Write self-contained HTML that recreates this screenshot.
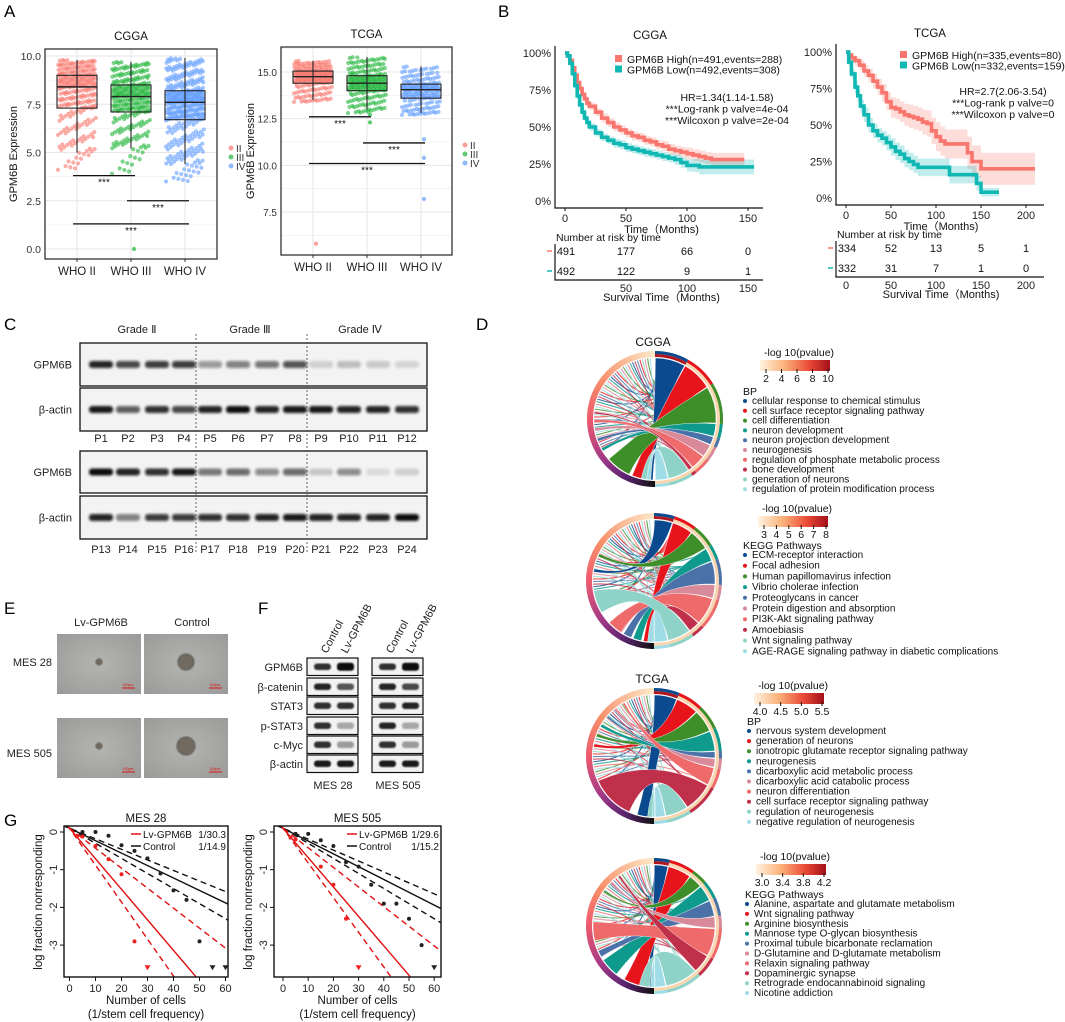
<!DOCTYPE html>
<html><head><meta charset="utf-8">
<style>
body{margin:0;background:#fff}
svg{display:block;font-family:"Liberation Sans",Arial,sans-serif}
</style></head>
<body>
<svg id="fig" width="1065" height="1022" viewBox="0 0 1065 1022">
<defs>
<filter id="blur" x="-50%" y="-100%" width="200%" height="300%"><feGaussianBlur stdDeviation="1.4"/></filter>
<filter id="blur2" x="-50%" y="-50%" width="200%" height="200%"><feGaussianBlur stdDeviation="0.9"/></filter>
<linearGradient id="cbar" x1="0" x2="1" y1="0" y2="0">
<stop offset="0" stop-color="#fff3e0"/><stop offset="0.35" stop-color="#fbb27a"/><stop offset="0.7" stop-color="#ea4a36"/><stop offset="1" stop-color="#a3101a"/>
</linearGradient>
<radialGradient id="photo" cx="0.5" cy="0.5" r="0.7"><stop offset="0" stop-color="#b4b4b2"/><stop offset="1" stop-color="#9a9a98"/></radialGradient>
<clipPath id="clipG1"><rect x="64" y="826" width="164" height="151"/></clipPath>
<clipPath id="clipG2"><rect x="274" y="826" width="167" height="151"/></clipPath>
</defs>

<text x="4" y="17" font-size="17">A</text>
<text x="498" y="17" font-size="17">B</text>
<text x="4" y="330" font-size="17">C</text>
<text x="476" y="330" font-size="17">D</text>
<text x="4" y="614" font-size="17">E</text>
<text x="258" y="614" font-size="17">F</text>
<text x="4" y="826" font-size="17">G</text>

<g id="pA"></g>
<g id="pB"></g>
<g id="pC"></g>
<g id="pD"></g>
<g id="pE"></g>
<g id="pF"></g>
<g id="pG"></g>
</svg>

<script>
const NS='http://www.w3.org/2000/svg';
const svg=document.getElementById('fig');
function mk(tag,attrs,parent){const e=document.createElementNS(NS,tag);for(const k in attrs)e.setAttribute(k,attrs[k]);(parent||svg).appendChild(e);return e;}
function tx(x,y,s,size,anchor,parent,extra){const e=mk('text',Object.assign({x:x,y:y,'font-size':size,'text-anchor':anchor||'start',fill:'#111'},extra||{}),parent);e.textContent=s;return e;}

/* ================= PANEL A DATA ================= */
const cggaGroups=['WHO II','WHO III','WHO IV'];
const cggaLow=[4.1,3.9,3.5];
const cggaMin=[5.0,5.2,4.4];
const cggaQ1=[7.3,7.1,6.7];
const cggaMed=[8.4,7.9,7.6];
const cggaQ3=[9.0,8.5,8.2];
const cggaMax=[9.8,9.7,9.9];
const cggaN=[260,270,380];
const cggaTicks=[0,2.5,5,7.5,10];
const cggaOutY=[0.0]; const cggaOutG=[1];
const cggaSigY=[3.8,2.5,1.3]; const cggaSigA=[0,1,0]; const cggaSigB=[1,2,2];

const tcgaGroups=['WHO II','WHO III','WHO IV'];
const tcgaLow=[13.4,12.8,12.7];
const tcgaMin=[13.5,13.0,12.8];
const tcgaQ1=[14.4,14.0,13.6];
const tcgaMed=[14.75,14.4,14.05];
const tcgaQ3=[15.05,14.8,14.35];
const tcgaMax=[15.6,15.8,15.3];
const tcgaN=[200,210,180];
const tcgaTicks=[7.5,10,12.5,15];
const tcgaOutY=[5.8,12.3,12.7,11.4,10.4,8.2]; const tcgaOutG=[0,1,1,2,2,2];
const tcgaSigY=[12.6,11.2,10.1]; const tcgaSigA=[0,1,0]; const tcgaSigB=[1,2,2];
const grpColors=['#f8766d','#22b53a','#619cff'];

function quant(knots,probs,u){for(let j=1;j<probs.length;j++){if(u<=probs[j]){const t=(u-probs[j-1])/(probs[j]-probs[j-1]);return knots[j-1]+t*(knots[j]-knots[j-1]);}}return knots[knots.length-1];}

function boxPanel(o){
  const g=document.getElementById('pA');
  const sub=mk('g',{},g);
  
  
  for(let i=0;i<o.ticks.length;i++){
    const v=o.ticks[i];
    const gl=mk('line',{x1:o.L,x2:o.R,y1:o.y(v),y2:o.y(v),stroke:'#e6e6e6','stroke-width':1},sub);
    
    
    const mv=v+o.step/2;
    if(o.y(mv)>o.T){const ml=mk('line',{x1:o.L,x2:o.R,y1:o.y(mv),y2:o.y(mv),stroke:'#f1f1f1','stroke-width':0.8},sub);
      
      }
    const tl=tx(o.L-4,o.y(v)+4,v.toFixed(1),o.tickFont,'end',sub,{fill:'#333'});
    
    
  }
  if(o.extraMinor){const mv=o.ticks[0]-o.step/2;const ml=mk('line',{x1:o.L,x2:o.R,y1:o.y(mv),y2:o.y(mv),stroke:'#f1f1f1','stroke-width':0.8},sub);
    
    }
  for(let i=0;i<3;i++){
    const vl=mk('line',{x1:o.x(i),x2:o.x(i),y1:o.T,y2:o.B,stroke:'#e6e6e6','stroke-width':1},sub);
    
    
  }
  const probs=[0,0.04,0.25,0.5,0.75,1];
  for(let i=0;i<3;i++){
    const knots=[o.low[i],o.min[i],o.q1[i],o.med[i],o.q3[i],o.max[i]];
    for(let k=0;k<o.n[i];k++){
      const u=((k*0.7548776662)%1);
      const v=quant(knots,probs,u);
      const jx=(((k*0.5698402910)%1)-0.5)*38;
      const c=mk('circle',{cx:o.x(i)+jx,cy:o.y(v),r:2.1,fill:grpColors[i],'fill-opacity':0.6},sub);
      
      
    }
  }
  for(let j=0;j<o.outY.length;j++){
    const c=mk('circle',{cx:o.x(o.outG[j])+3,cy:o.y(o.outY[j]),r:2.1,fill:grpColors[o.outG[j]],'fill-opacity':0.7},sub);
    
    
  }
  for(let i=0;i<3;i++){
    const x=o.x(i),w=40;
    const wl=mk('line',{x1:x,x2:x,y1:o.y(o.min[i]),y2:o.y(o.max[i]),stroke:'#222','stroke-width':1.1},sub);
    
    
    const r=mk('rect',{x:x-w/2,y:o.y(o.q3[i]),width:w,height:o.y(o.q1[i])-o.y(o.q3[i]),fill:'none',stroke:'#222','stroke-width':1.1},sub);
    
    
    const m=mk('line',{x1:x-w/2,x2:x+w/2,y1:o.y(o.med[i]),y2:o.y(o.med[i]),stroke:'#222','stroke-width':1.4},sub);
    
    
    const xl=tx(x,o.B+16,o.groups[i],11.5,'middle',sub,{fill:'#222'});
    
    
    const tk=mk('line',{x1:x,x2:x,y1:o.B,y2:o.B+3,stroke:'#333'},sub);
    
    
  }
  for(let j=0;j<o.sigY.length;j++){
    const xa=o.x(o.sigA[j])-4,xb=o.x(o.sigB[j])+4,yy=o.y(o.sigY[j]);
    const l=mk('line',{x1:xa,x2:xb,y1:yy,y2:yy,stroke:'#111','stroke-width':1.3},sub);
    
    
    const s=tx((xa+xb)/2,yy+10,'***',10,'middle',sub);
    
    
  }
  const fr=mk('rect',{x:o.L,y:o.T,width:o.R-o.L,height:o.B-o.T,fill:'none',stroke:'#333','stroke-width':1.3},sub);
  
  
  const tt=tx((o.L+o.R)/2,o.T-9,o.title,11.5,'middle',sub);
  
  
  const yt=tx(0,0,'GPM6B Expression',11,'middle',sub,{transform:`translate(${o.ytX},${(o.T+o.B)/2}) rotate(-90)`});
  
  
  const labs=['II','III','IV'];
  for(let i=0;i<3;i++){
    const c=mk('circle',{cx:o.legX,cy:o.legY+i*9,r:2.5,fill:grpColors[i],'fill-opacity':0.7},sub);
    
    
    const t=tx(o.legX+5,o.legY+i*9+4,labs[i],10,'start',sub,{fill:'#333'});
    
    
  }
}
boxPanel({name:'cgga-boxplot',title:'CGGA',L:45,R:217,T:49,B:259,x:i=>77+54*i,y:v=>249-v*19.3,step:2.5,tickFont:10.5,
  ticks:cggaTicks,groups:cggaGroups,low:cggaLow,min:cggaMin,q1:cggaQ1,med:cggaMed,q3:cggaQ3,max:cggaMax,n:cggaN,
  outY:cggaOutY,outG:cggaOutG,sigY:cggaSigY,sigA:cggaSigA,sigB:cggaSigB,ytX:17,legX:231,legY:148});
boxPanel({name:'tcga-boxplot',title:'TCGA',L:281,R:452,T:47,B:255,x:i=>313+54*i,y:v=>72+(15-v)*18.67,step:2.5,extraMinor:true,tickFont:10,
  ticks:tcgaTicks,groups:tcgaGroups,low:tcgaLow,min:tcgaMin,q1:tcgaQ1,med:tcgaMed,q3:tcgaQ3,max:tcgaMax,n:tcgaN,
  outY:tcgaOutY,outG:tcgaOutG,sigY:tcgaSigY,sigA:tcgaSigA,sigB:tcgaSigB,ytX:254,legX:465,legY:145});

/* ================= PANEL B DATA ================= */
const cggaHighT=[0,2,4,6,8,10,12,14,16,18,20,25,30,35,40,45,50,55,60,65,70,75,80,85,90,95,100,105,110,115,120,147];
const cggaHighS=[1,0.98,0.95,0.90,0.85,0.80,0.76,0.72,0.69,0.66,0.64,0.60,0.56,0.53,0.50,0.48,0.46,0.44,0.43,0.41,0.40,0.38,0.37,0.35,0.34,0.33,0.32,0.31,0.30,0.29,0.28,0.28];
const cggaHighCI=[0,0.01,0.015,0.02,0.02,0.02,0.02,0.025,0.025,0.025,0.025,0.025,0.03,0.03,0.03,0.03,0.03,0.03,0.03,0.03,0.03,0.03,0.035,0.035,0.035,0.035,0.04,0.04,0.04,0.04,0.045,0.045];
const cggaLowT=[0,2,4,6,8,10,12,14,16,18,20,25,30,35,40,45,50,55,60,65,70,75,80,85,90,95,100,105,110,115,120,155];
const cggaLowS=[1,0.98,0.93,0.86,0.78,0.71,0.65,0.60,0.56,0.53,0.50,0.46,0.43,0.41,0.39,0.38,0.36,0.35,0.34,0.33,0.32,0.31,0.30,0.29,0.28,0.26,0.24,0.24,0.23,0.23,0.23,0.23];
const cggaLowCI=[0,0.01,0.015,0.02,0.02,0.02,0.02,0.025,0.025,0.025,0.025,0.025,0.025,0.025,0.03,0.03,0.03,0.03,0.03,0.03,0.03,0.03,0.03,0.03,0.035,0.035,0.04,0.045,0.05,0.05,0.05,0.05];
const tcgaHighT=[0,3,6,10,15,20,25,30,35,40,45,50,55,60,65,70,75,80,85,90,95,100,105,110,130,135,140,150,210];
const tcgaHighS=[1,0.98,0.96,0.94,0.91,0.87,0.84,0.80,0.76,0.72,0.66,0.62,0.61,0.59,0.57,0.56,0.55,0.54,0.52,0.51,0.46,0.42,0.39,0.37,0.37,0.31,0.25,0.20,0.20];
const tcgaHighCI=[0,0.01,0.02,0.03,0.035,0.04,0.045,0.05,0.055,0.06,0.06,0.07,0.07,0.07,0.075,0.08,0.08,0.08,0.085,0.09,0.09,0.1,0.1,0.1,0.1,0.11,0.11,0.11,0.11];
const tcgaLowT=[0,3,6,10,13,16,20,25,30,35,40,45,50,55,60,65,70,75,80,110,115,140,145,150,170];
const tcgaLowS=[1,0.93,0.85,0.76,0.70,0.63,0.57,0.50,0.46,0.43,0.41,0.38,0.35,0.32,0.30,0.27,0.25,0.23,0.21,0.21,0.16,0.16,0.10,0.04,0.04];
const tcgaLowCI=[0,0.02,0.03,0.04,0.04,0.045,0.05,0.05,0.05,0.05,0.05,0.055,0.06,0.06,0.06,0.06,0.06,0.06,0.06,0.06,0.06,0.06,0.05,0.03,0.03];
const riskCggaHigh=['491','177','66','0'];
const riskCggaLow=['492','122','9','1'];
const riskTcgaHigh=['334','52','13','5','1'];
const riskTcgaLow=['332','31','7','1','0'];
const kmPctTicks=[0,0.25,0.5,0.75,1];
const cggaTimeTicks=[0,50,100,150];
const tcgaTimeTicks=[0,50,100,150,200];

function stepPts(t,s){const p=[[t[0],s[0]]];for(let i=1;i<t.length;i++){p.push([t[i],s[i-1]]);p.push([t[i],s[i]]);}return p;}
function kmPanel(o){
  const g=mk('g',{},document.getElementById('pB'));
  
  
  const curves=[[o.hT,o.hS,o.hCI,'#f8766d'],[o.lT,o.lS,o.lCI,'#10b8b4']];
  for(const c of curves){
    const up=c[1].map((v,i)=>Math.min(1,v+c[2][i])), lo=c[1].map((v,i)=>Math.max(0,v-c[2][i]));
    const pu=stepPts(c[0],up), pl=stepPts(c[0],lo).reverse();
    const d='M'+pu.concat(pl).map(p=>o.x(p[0])+','+o.y(p[1])).join('L')+'Z';
    const b=mk('path',{d:d,fill:c[3],'fill-opacity':0.25,stroke:'none'},g);
    
    
  }
  for(const c of curves){
    const pts=stepPts(c[0],c[1]);
    const d='M'+pts.map(p=>o.x(p[0])+','+o.y(p[1])).join('L');
    const l=mk('path',{d:d,fill:'none',stroke:c[3],'stroke-width':3.6},g);
    
    
  }
  const ax=mk('path',{d:`M${o.L},${o.T}V${o.B}H${o.R}`,fill:'none',stroke:'#111','stroke-width':1.2},g);
  
  
  for(const v of kmPctTicks){
    const t=tx(o.L-4,o.y(v)+4,(v*100)+'%',11,'end',g,{fill:'#222'});
    
    
  }
  for(const v of o.tticks){
    const tk=mk('line',{x1:o.x(v),x2:o.x(v),y1:o.B,y2:o.B+3,stroke:'#111'},g);
    
    
    const t=tx(o.x(v),o.B+14,String(v),11,'middle',g,{fill:'#222'});
    
    
  }
  const xt=tx(o.x(o.tticks[o.tticks.length-1]/2)+5,o.B+25,'Time（Months)',11,'middle',g);
  
  
  const tt=tx(o.titleX,o.titleY,o.title,11.5,'middle',g);
  
  
  const lc=['#f8766d','#10b8b4'];
  for(let i=0;i<2;i++){
    const r=mk('rect',{x:o.legX,y:o.legY+i*10.5-4,width:7,height:7,fill:lc[i]},g);
    
    
    const t=tx(o.legX+12,o.legY+i*10.5+4,o.leg[i],10.5,'start',g);
    
    
  }
  for(let i=0;i<3;i++){
    const t=tx(o.hrX,o.hrY+i*11.5,o.hr[i],10.5,'middle',g);
    
    
  }
  const rt=tx(o.L+1,o.B+33,'Number at risk by time',10.5,'start',g);
  
  
  const tb=o.B+72;
  const tax=mk('path',{d:`M${o.L},${o.B+36}V${tb}H${o.R}`,fill:'none',stroke:'#111','stroke-width':1.2},g);
  
  
  const rows=[o.rH,o.rL];
  for(let r=0;r<2;r++){
    const yy=o.B+47+r*20;
    const dsh=mk('line',{x1:o.L-8,x2:o.L-3,y1:yy-4,y2:yy-4,stroke:lc[r],'stroke-width':1.5},g);
    
    
    for(let k=0;k<rows[r].length;k++){
      const xx=k===0?o.L+11:o.x(o.tticks[k]);
      const t=tx(xx,yy,rows[r][k],11,'middle',g);
      
      
    }
  }
  for(const v of o.tticks){
    if(v===0&&!o.zeroRisk)continue;
    const t=tx(o.x(v),tb+12,String(v),11,'middle',g,{fill:'#222'});
    
    
  }
  const st=tx(o.x(o.tticks[o.tticks.length-1]/2)+5,tb+21,'Survival Time（Months)',11,'middle',g);
  
  
}
kmPanel({name:'cgga-km-plot',title:'CGGA',titleX:650,titleY:39,L:555,R:763,T:46,B:208,x:t=>565+t*1.22,y:s=>201-s*148,
  hT:cggaHighT,hS:cggaHighS,hCI:cggaHighCI,lT:cggaLowT,lS:cggaLowS,lCI:cggaLowCI,tticks:cggaTimeTicks,
  legX:615,legY:59,leg:['GPM6B High(n=491,events=288)','GPM6B Low(n=492,events=308)'],
  hrX:727,hrY:101,hr:['HR=1.34(1.14-1.58)','***Log-rank p valve=4e-04','***Wilcoxon p valve=2e-04'],rH:riskCggaHigh,rL:riskCggaLow});
kmPanel({name:'tcga-km-plot',title:'TCGA',titleX:930,titleY:37,L:836,R:1044,T:44,B:205,x:t=>846+t*0.9,y:s=>198-s*146,zeroRisk:true,
  hT:tcgaHighT,hS:tcgaHighS,hCI:tcgaHighCI,lT:tcgaLowT,lS:tcgaLowS,lCI:tcgaLowCI,tticks:tcgaTimeTicks,
  legX:900,legY:55,leg:['GPM6B High(n=335,events=80)','GPM6B Low(n=332,events=159)'],
  hrX:1003,hrY:95,hr:['HR=2.7(2.06-3.54)','***Log-rank p valve=0','***Wilcoxon p valve=0'],rH:riskTcgaHigh,rL:riskTcgaLow});

/* ================= PANEL C ================= */
const laneLabelsTop=['P1','P2','P3','P4','P5','P6','P7','P8','P9','P10','P11','P12'];
const laneLabelsBot=['P13','P14','P15','P16','P17','P18','P19','P20','P21','P22','P23','P24'];
const gpm6bTop=[0.9,0.75,0.8,0.8,0.4,0.5,0.55,0.7,0.15,0.22,0.17,0.12];
const actinTop=[0.95,0.65,0.85,0.75,0.9,1,0.9,0.95,0.95,0.9,0.9,0.85];
const gpm6bBot=[1,0.9,0.85,0.95,0.55,0.6,0.45,0.6,0.18,0.45,0.1,0.15];
const actinBot=[0.9,0.5,0.8,0.8,0.85,0.85,0.9,0.95,0.9,0.9,0.9,1];
const laneX=[101,128,157,184,210,238,267,295,321,349,378,407];
(function(){
  const g=document.getElementById('pC');
  const grades=[['Grade Ⅱ',137],['Grade Ⅲ',250],['Grade Ⅳ',360]];
  for(const gr of grades){const t=tx(gr[1],333,gr[0],11,'middle',g,{fill:'#222'});
    
    }
  const boxes=[[343,386,gpm6bTop,'GPM6B'],[388,431,actinTop,'β-actin'],[451,493,gpm6bBot,'GPM6B'],[496,539,actinBot,'β-actin']];
  for(const b of boxes){
    const r=mk('rect',{x:80,y:b[0],width:347,height:b[1]-b[0],fill:'#f3f3f3',stroke:'#111','stroke-width':1.3},g);
    
    
    const cy=(b[0]+b[1])/2;
    for(let i=0;i<12;i++){
      const band=mk('rect',{x:laneX[i]-12,y:cy-3.5,width:24,height:7,rx:3,fill:'#111','fill-opacity':b[2][i],filter:'url(#blur)'},g);
      
      
    }
    const l=tx(72,cy+4,b[3],11,'end',g,{fill:'#222'});
    
    
  }
  for(let i=0;i<12;i++){
    const a=tx(laneX[i],442,laneLabelsTop[i],11,'middle',g,{fill:'#222'});
    
    
    const b=tx(laneX[i],553,laneLabelsBot[i],11,'middle',g,{fill:'#222'});
    
    
  }
  for(const x of [196,307]){
    const d=mk('line',{x1:x,x2:x,y1:334,y2:552,stroke:'#555','stroke-width':0.9,'stroke-dasharray':'2,2'},g);
    
    
  }
})();

/* ================= PANEL D ================= */
const termColors=['#0b4a8f','#e8141c','#3e8e2a','#0e9a8c','#4a72a8','#d98a9a','#ef6b6b','#c0304a','#8fd3c8','#9fdce6'];
const bpCggaTerms=['cellular response to chemical stimulus','cell surface receptor signaling pathway','cell differentiation','neuron development','neuron projection development','neurogenesis','regulation of phosphate metabolic process','bone development','generation of neurons','regulation of protein modification process'];
const keggCggaTerms=['ECM-receptor interaction','Focal adhesion','Human papillomavirus infection','Vibrio cholerae infection','Proteoglycans in cancer','Protein digestion and absorption','PI3K-Akt signaling pathway','Amoebiasis','Wnt signaling pathway','AGE-RAGE signaling pathway in diabetic complications'];
const bpTcgaTerms=['nervous system development','generation of neurons','ionotropic glutamate receptor signaling pathway','neurogenesis','dicarboxylic acid metabolic process','dicarboxylic acid catabolic process','neuron differentiation','cell surface receptor signaling pathway','regulation of neurogenesis','negative regulation of neurogenesis'];
const keggTcgaTerms=['Alanine, aspartate and glutamate metabolism','Wnt signaling pathway','Arginine biosynthesis','Mannose type O-glycan biosynthesis','Proximal tubule bicarbonate reclamation','D-Glutamine and D-glutamate metabolism','Relaxin signaling pathway','Dopaminergic synapse','Retrograde endocannabinoid signaling','Nicotine addiction'];
const bpCggaWeights=[14,14,17,6,4,6,7,2,10,6];
const bpCggaTargets=[94,106,127,150,160,170,178,186,99,96];
const bpCggaTW=[4,12,24,3,3,3,3,2,8,4];
const keggCggaWeights=[8,9,9,6,10,6,12,5,10,6];
const keggCggaTargets=[190,97,205,106,116,124,130,85,160,93];
const keggCggaTW=[3,6,3,8,8,4,14,4,22,6];
const bpTcgaWeights=[10,10,10,9,3,4,8,13,10,5];
const bpTcgaTargets=[100,190,200,210,220,230,240,135,93,90];
const bpTcgaTW=[12,3,3,3,2,2,2,42,6,3];
const keggTcgaWeights=[6,10,6,7,7,5,12,8,14,5];
const keggTcgaTargets=[95,110,215,137,153,225,175,235,99,91];
const keggTcgaTW=[4,18,2,18,6,2,18,2,10,4];
const cbCggaBP=['2','4','6','8','10'];
const cbCggaKEGG=['3','4','5','6','7','8'];
const cbTcgaBP=['4.0','4.5','5.0','5.5'];
const cbTcgaKEGG=['3.0','3.4','3.8','4.2'];

function pt(cx,cy,r,a){const t=a*Math.PI/180;return [+(cx+r*Math.cos(t)).toFixed(2),+(cy+r*Math.sin(t)).toFixed(2)];}
function arcSeg(cx,cy,r1,r2,a1,a2){const p1=pt(cx,cy,r2,a1),p2=pt(cx,cy,r2,a2),p3=pt(cx,cy,r1,a2),p4=pt(cx,cy,r1,a1);const lg=(a2-a1)>180?1:0;return `M${p1}A${r2},${r2} 0 ${lg} 1 ${p2}L${p3}A${r1},${r1} 0 ${lg} 0 ${p4}Z`;}
function ribbon(cx,cy,r,a1,a2,b1,b2){const A1=pt(cx,cy,r,a1),A2=pt(cx,cy,r,a2),B1=pt(cx,cy,r,b1),B2=pt(cx,cy,r,b2);return `M${A1}A${r},${r} 0 0 1 ${A2}Q${cx},${cy} ${B1}A${r},${r} 0 0 1 ${B2}Q${cx},${cy} ${A1}Z`;}
function hex2rgb(h){return [parseInt(h.substr(1,2),16),parseInt(h.substr(3,2),16),parseInt(h.substr(5,2),16)];}
const ringStops=[[0,'#fde9c9'],[0.3,'#f7906a'],[0.5,'#ee5a6e'],[0.7,'#a33a86'],[0.85,'#5b2470'],[1,'#111111']];
function ringColor(t){for(let i=1;i<ringStops.length;i++){if(t<=ringStops[i][0]){const f=(t-ringStops[i-1][0])/(ringStops[i][0]-ringStops[i-1][0]);const a=hex2rgb(ringStops[i-1][1]),b=hex2rgb(ringStops[i][1]);return `rgb(${a.map((v,k)=>Math.round(v+(b[k]-v)*f)).join(',')})`;}}return '#111';}

function chord(o){
  const g=mk('g',{},document.getElementById('pD'));
  
  
  const cx=o.cx,cy=o.cy,r=61;
  const tot=o.w.reduce((a,b)=>a+b,0);
  let a=-90;const secs=[];
  for(let i=0;i<o.w.length;i++){const s=o.w[i]/tot*180;secs.push([a,a+s]);a+=s;}
  const nThin=48;
  for(let k=0;k<nThin;k++){
    const la=150+k*(118/nThin);
    const ti=(k*7)%10;
    const sa=secs[ti][0]+(secs[ti][1]-secs[ti][0])*(((k*0.618)%1)*0.8+0.1);
    const p1=pt(cx,cy,r,la),p2=pt(cx,cy,r,sa);
    const l=mk('path',{d:`M${p1}Q${cx},${cy} ${p2}`,fill:'none',stroke:termColors[ti],'stroke-width':1.1,'stroke-opacity':0.8},g);
    
    
  }
  for(let i=0;i<o.w.length;i++){
    const s=secs[i];
    const rb=mk('path',{d:ribbon(cx,cy,r,s[0]+0.4,s[1]-0.4,o.t[i]-o.tw[i]/2,o.t[i]+o.tw[i]/2),fill:termColors[i],stroke:'#fff','stroke-width':0.4},g);
    
    
  }
  const N=60;
  for(let k=0;k<N;k++){
    const a1=90+k*180/N,a2=a1+180/N+0.3;
    const t=1-(k+0.5)/N;
    const seg=mk('path',{d:arcSeg(cx,cy,r+1,r+7,a1,a2),fill:ringColor(t)},g);
    
    
  }
  for(let i=0;i<secs.length;i++){
    const s=secs[i];
    const inner=mk('path',{d:arcSeg(cx,cy,r+1,r+4,s[0],s[1]),fill:i===0?'#b01820':'#f8d5ae'},g);
    
    
    const outer=mk('path',{d:arcSeg(cx,cy,r+4,r+7,s[0],s[1]),fill:termColors[i]},g);
    
    
  }
  if(o.title){const t=tx(cx-2,cy-r-12,o.title,12,'middle',g);
    
    }
  const cbX=o.cbX,cbW=70;
  const lt=tx(cbX+4,o.cbY-4,'-log 10(pvalue)',10.5,'start',g);
  
  
  const cb=mk('rect',{x:cbX,y:o.cbY,width:cbW,height:11,fill:'url(#cbar)'},g);
  
  
  for(let i=0;i<o.cbT.length;i++){
    const x=cbX+6+i*(cbW-8)/(o.cbT.length-1);
    const tk=mk('line',{x1:x,x2:x,y1:o.cbY+9,y2:o.cbY+13,stroke:'#111'},g);
    
    
    const t=tx(x,o.cbY+22,o.cbT[i],10.5,'middle',g);
    
    
  }
  const ht=tx(o.legX-9,o.legY-9,o.head,10.5,'start',g);
  
  
  for(let i=0;i<o.terms.length;i++){
    const yy=o.legY+i*o.step;
    const d=mk('circle',{cx:o.legX-7,cy:yy-3,r:2,fill:termColors[i]},g);
    
    
    const t=tx(o.legX,yy,o.terms[i],10,'start',g);
    
    
  }
}
chord({name:'cgga-bp-chord',title:'CGGA',cx:655,cy:419,w:bpCggaWeights,t:bpCggaTargets,tw:bpCggaTW,terms:bpCggaTerms,head:'BP',cbX:760,cbY:360,cbT:cbCggaBP,legX:752,legY:404,step:9.8});
chord({name:'cgga-kegg-chord',cx:654,cy:581,w:keggCggaWeights,t:keggCggaTargets,tw:keggCggaTW,terms:keggCggaTerms,head:'KEGG Pathways',cbX:758,cbY:516,cbT:cbCggaKEGG,legX:752,legY:558,step:10.7});
chord({name:'tcga-bp-chord',title:'TCGA',cx:654,cy:756,w:bpTcgaWeights,t:bpTcgaTargets,tw:bpTcgaTW,terms:bpTcgaTerms,head:'BP',cbX:754,cbY:693,cbT:cbTcgaBP,legX:756,legY:734,step:10.1});
chord({name:'tcga-kegg-chord',cx:654,cy:926,w:keggTcgaWeights,t:keggTcgaTargets,tw:keggTcgaTW,terms:keggTcgaTerms,head:'KEGG Pathways',cbX:756,cbY:864,cbT:cbTcgaKEGG,legX:754,legY:907,step:9.9});

/* ================= PANEL E ================= */
const sphereR=[3,8,3,9];
(function(){
  const g=document.getElementById('pE');
  const heads=[['Lv-GPM6B',101],['Control',192]];
  for(const h of heads){const t=tx(h[1],626,h[0],11,'middle',g,{fill:'#222'});
    
    }
  const rowsE=[['MES 28',634,666],['MES 505',718,757]];
  let k=0;
  for(const row of rowsE){
    const l=tx(52,row[2],row[0],11,'end',g,{fill:'#222'});
    
    
    for(const x0 of [57,144]){
      const r=mk('rect',{x:x0,y:row[1],width:84,height:60,fill:'url(#photo)'},g);
      
      
      const c=mk('circle',{cx:x0+42,cy:row[1]+28,r:sphereR[k],fill:'#6f6a60',stroke:'#4a463e','stroke-width':0.8,filter:'url(#blur2)'},g);
      
      
      const sb=mk('line',{x1:x0+65,x2:x0+78,y1:row[1]+54,y2:row[1]+54,stroke:'#e01010','stroke-width':1},g);
      
      
      const st=tx(x0+71,row[1]+52,'100μm',3.5,'middle',g,{fill:'#e01010'});
      
      
      k++;
    }
  }
})();

/* ================= PANEL F ================= */
const fRowLabels=['GPM6B','β-catenin','STAT3','p-STAT3','c-Myc','β-actin'];
const mes28Ctrl=[0.85,0.9,0.85,0.85,0.85,0.95];
const mes28Lv=[1,0.7,0.85,0.35,0.4,0.95];
const mes505Ctrl=[0.85,0.9,0.85,0.9,0.85,0.95];
const mes505Lv=[1,0.75,0.9,0.35,0.4,0.95];
const fRowTop=[658,678,697,717,736,755];
(function(){
  const g=document.getElementById('pF');
  const sets=[[307,mes28Ctrl,mes28Lv,'MES 28'],[372,mes505Ctrl,mes505Lv,'MES 505']];
  for(const s of sets){
    for(let i=0;i<6;i++){
      const r=mk('rect',{x:s[0],y:fRowTop[i],width:51,height:17.5,fill:'#f2f2f2',stroke:'#111','stroke-width':1.2},g);
      
      
      const cy=fRowTop[i]+8.75;
      const vals=[s[1][i],s[2][i]];
      for(let j=0;j<2;j++){
        const h=vals[j]>0.95?8:6.5;
        const b=mk('rect',{x:s[0]+7+j*23,y:cy-h/2,width:17,height:h,rx:3,fill:'#111','fill-opacity':vals[j],filter:'url(#blur2)'},g);
        
        
      }
    }
    const hl=[['Control',s[0]+20],['Lv-GPM6B',s[0]+40]];
    for(const h of hl){const t=tx(0,0,h[0],11,'start',g,{transform:`translate(${h[1]},654) rotate(-62)`,fill:'#222'});
      
      }
    const cl=tx(s[0]+26,789,s[3],11,'middle',g,{fill:'#222'});
    
    
  }
  for(let i=0;i<6;i++){
    const t=tx(303,fRowTop[i]+13,fRowLabels[i],11,'end',g,{fill:'#222'});
    
    
  }
})();

/* ================= PANEL G DATA ================= */
const g28BlackX=[5,10,15,20,25,30,35,40,45,50];
const g28BlackY=[0,0,-0.1,-0.35,-0.5,-0.7,-1.1,-1.55,-1.8,-2.9];
const g28BlackTriX=[55,60]; const g28BlackTriY=[-3.6,-3.6];
const g28RedX=[3,5,10,15,20,25];
const g28RedY=[-0.1,-0.12,-0.37,-0.72,-1.12,-2.9];
const g28RedTriX=[30]; const g28RedTriY=[-3.6];
const g28Slopes=[-0.033,-0.028,-0.040,-0.081,-0.053,-0.098];
const g505BlackX=[5,10,15,20,25,30,35,40,45,50,55];
const g505BlackY=[-0.05,-0.05,-0.22,-0.37,-0.8,-0.92,-1.4,-1.9,-1.9,-2.3,-3.0];
const g505BlackTriX=[60]; const g505BlackTriY=[-3.6];
const g505RedX=[3,5,15,20,25];
const g505RedY=[-0.15,-0.2,-0.92,-1.4,-2.3];
const g505RedTriX=[30]; const g505RedTriY=[-3.6];
const g505Slopes=[-0.034,-0.029,-0.040,-0.078,-0.052,-0.092];
const gLineColor=['#111','#111','#111','#e01010','#e01010','#e01010'];
const gLineDash=['none','6,4','6,4','none','6,4','6,4'];
const gIntercept=0.1;
const gXTicks=[0,10,20,30,40,50,60];
const gYTicks=[0,-1,-2,-3];

function ldaPanel(o){
  const g=mk('g',{},document.getElementById('pG'));
  
  
  const clip=mk('g',{'clip-path':`url(#${o.clip})`},g);
  for(let i=0;i<o.slopes.length;i++){
    const x0=-3,x1=65;
    const l=mk('line',{x1:o.x(x0),y1:o.y(gIntercept+o.slopes[i]*x0),x2:o.x(x1),y2:o.y(gIntercept+o.slopes[i]*x1),stroke:gLineColor[i],'stroke-width':1.4,'stroke-dasharray':gLineDash[i]},clip);
    
    
  }
  const pts=[[o.bx,o.by,'#222'],[o.rx,o.ry,'#f02020']];
  for(const p of pts){for(let i=0;i<p[0].length;i++){
    const c=mk('circle',{cx:o.x(p[0][i]),cy:o.y(p[1][i]),r:2,fill:p[2]},clip);
    
    }}
  const tris=[[o.btx,o.bty,'#222'],[o.rtx,o.rty,'#f02020']];
  for(const p of tris){for(let i=0;i<p[0].length;i++){
    const X=o.x(p[0][i]),Y=o.y(p[1][i]);
    const t=mk('path',{d:`M${X-3},${Y-2.5}L${X+3},${Y-2.5}L${X},${Y+2.5}Z`,fill:p[2]},clip);
    
    }}
  const fr=mk('rect',{x:o.L,y:826,width:o.R-o.L,height:151,fill:'none',stroke:'#111','stroke-width':1.4},g);
  
  
  for(const v of gXTicks){
    const tk=mk('line',{x1:o.x(v),x2:o.x(v),y1:977,y2:981,stroke:'#111'},g);
    
    
    const t=tx(o.x(v),992,String(v),11,'middle',g,{fill:'#222'});
    
    
  }
  for(const v of gYTicks){
    const tk=mk('line',{x1:o.L-4,x2:o.L,y1:o.y(v),y2:o.y(v),stroke:'#111'},g);
    
    
    const t=tx(0,0,String(v),11,'middle',g,{transform:`translate(${o.L-7},${o.y(v)}) rotate(-90)`,fill:'#222'});
    
    
  }
  const yt=tx(0,0,'log fraction nonresponding',11.5,'middle',g,{transform:`translate(${o.L-22},902) rotate(-90)`});
  
  
  const xt1=tx((o.L+o.R)/2,1004,'Number of cells',11.5,'middle',g);
  
  
  const xt2=tx((o.L+o.R)/2,1018,'(1/stem cell frequency)',11.5,'middle',g);
  
  
  const tt=tx((o.L+o.R)/2,822,o.title,11.5,'middle',g);
  
  
  const lg=[['Lv-GPM6B',o.f[0],'#e01010'],['Control',o.f[1],'#111']];
  for(let i=0;i<2;i++){
    const yy=834+i*12;
    const l=mk('line',{x1:o.legX,x2:o.legX+10,y1:yy,y2:yy,stroke:lg[i][2],'stroke-width':1.5},g);
    
    
    const a=tx(o.legX+12,yy+4,lg[i][0],10,'start',g);
    
    
    const b=tx(o.R-2,yy+4,lg[i][1],10,'end',g);
    
    
  }
}
ldaPanel({name:'mes28-lda-plot',title:'MES 28',clip:'clipG1',L:64,R:228,x:v=>69.5+v*2.6,y:v=>832-v*37.7,
  bx:g28BlackX,by:g28BlackY,btx:g28BlackTriX,bty:g28BlackTriY,rx:g28RedX,ry:g28RedY,rtx:g28RedTriX,rty:g28RedTriY,
  slopes:g28Slopes,legX:131,f:['1/30.3','1/14.9']});
ldaPanel({name:'mes505-lda-plot',title:'MES 505',clip:'clipG2',L:274,R:441,x:v=>283+v*2.52,y:v=>832-v*37.7,
  bx:g505BlackX,by:g505BlackY,btx:g505BlackTriX,bty:g505BlackTriY,rx:g505RedX,ry:g505RedY,rtx:g505RedTriX,rty:g505RedTriY,
  slopes:g505Slopes,legX:347,f:['1/29.6','1/15.2']});
</script>
</body></html>
